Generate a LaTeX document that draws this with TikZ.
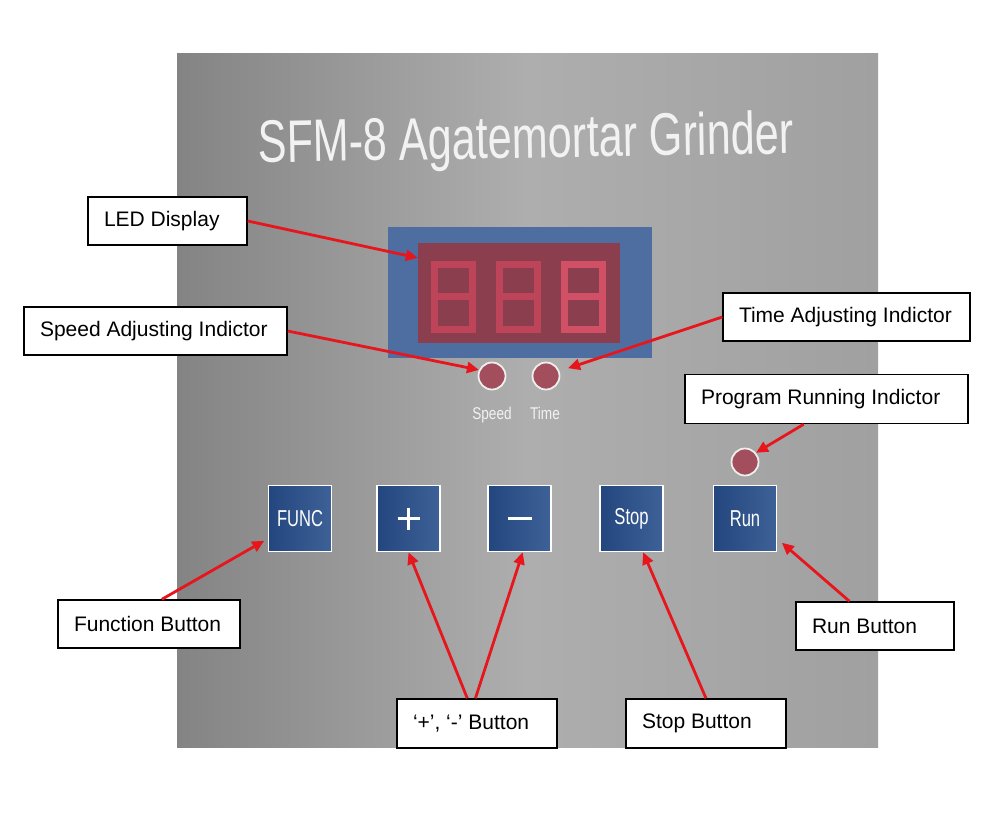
\documentclass[tikz,border=0pt]{standalone}
\usepackage{fontspec}
\usepackage{graphicx}
\setmainfont{Liberation Sans}
\usetikzlibrary{arrows.meta,calc}
\definecolor{arrred}{RGB}{230,22,28}
\definecolor{panL}{RGB}{132,132,132}
\definecolor{panM}{RGB}{174,174,174}
\definecolor{panR}{RGB}{160,160,160}
\definecolor{dispblue}{RGB}{78,110,162}
\definecolor{dispred}{RGB}{138,62,78}
\definecolor{segA}{RGB}{190,68,90}
\definecolor{segB}{RGB}{210,80,102}
\definecolor{btnL}{RGB}{36,70,126}
\definecolor{btnR}{RGB}{62,97,152}
\definecolor{ledred}{RGB}{162,78,92}
\definecolor{ledring}{RGB}{238,238,238}
\definecolor{titlecol}{RGB}{242,242,242}
\begin{document}
\begin{tikzpicture}[x=1pt,y=-1pt,
  lbl/.style={draw=black, line width=1.4pt, fill=white, text=black,
    font=\fontsize{21}{25}\selectfont, inner xsep=16pt, inner ysep=0pt},
  btn/.style={draw=white, line width=1.6pt, minimum width=63, minimum height=66,
    left color=btnL, right color=btnR, inner sep=0pt, text=white,
    font=\fontsize{23}{25}\selectfont},
  led/.style={circle, draw=ledring, line width=1.8pt, fill=ledred,
    minimum size=27, inner sep=0pt},
  small/.style={text=titlecol, font=\fontsize{17}{18}\selectfont, anchor=base, inner sep=0pt},
  arr/.style={draw=arrred, line width=2.8pt, -{Triangle[length=12pt,width=11pt]}},
  seg/.style={line width=7pt}
]
\useasboundingbox (0,0) rectangle (1000,828);
\fill[white] (0,0) rectangle (1000,828);

% panel
\node[draw=none, minimum width=701, minimum height=694, inner sep=0pt,
  left color=panL, right color=panR, middle color=panM] (panel) at (527.5,400) {};

% title
\node[text=titlecol, font=\fontsize{60}{62}\selectfont, anchor=base, inner sep=0pt, rotate=1] (title)
  at (526,158) {\scalebox{0.72}[1]{SFM-8 Agatemortar Grinder}};

% display
\node[fill=dispblue, minimum width=264, minimum height=131, inner sep=0pt] (disp) at (520,292.5) {};
\node[fill=dispred, minimum width=202, minimum height=100, inner sep=0pt] (inner) at (519,293) {};
\foreach \x/\c in {430/segA, 495/segA, 560/segB}{
  \draw[seg, \c] (\x+4,264) rectangle (\x+42,329);
  \draw[seg, \c] (\x+4,296.5) -- (\x+42,296.5);
}

% indicators
\node[led] (speedled) at (492,376) {};
\node[led] (timeled) at (546,376) {};
\node[led] (progled) at (745,462) {};
\node[small] (speedtxt) at (492,419) {\scalebox{0.8}[1]{Speed}};
\node[small] (timetxt) at (545,419) {\scalebox{0.8}[1]{Time}};

% buttons
\node[btn] (func) at (300,518.5) {\scalebox{0.72}[1]{FUNC}};
\node[btn] (plus) at (408.5,518.5) {};
\node[btn] (minus) at (519.5,518.5) {};
\node[btn] (stop) at (631.5,518.5) {\scalebox{0.72}[1]{Stop}};
\node[btn] (run) at (745,518.5) {\scalebox{0.72}[1]{Run}};
\draw[white, line width=3pt] ($(plus)+(-11,0)$) -- ($(plus)+(11,0)$);
\draw[white, line width=3pt] ($(plus)+(0,-11)$) -- ($(plus)+(0,11)$);
\draw[white, line width=3.5pt] ($(minus)+(-12,0)$) -- ($(minus)+(12,0)$);

% labels
\node[lbl, minimum height=48] (ledlbl) at (167.5,221) {\makebox[127pt][l]{LED Display}};
\node[lbl, minimum height=48] (speedlbl) at (155.5,331) {\makebox[231pt][l]{Speed Adjusting Indictor}};
\node[lbl, minimum height=48] (timelbl) at (846.5,317) {\makebox[215pt][l]{Time Adjusting Indictor}};
\node[lbl, minimum height=49] (proglbl) at (826.5,399) {\makebox[251pt][l]{Program Running Indictor}};
\node[lbl, minimum height=48] (funclbl) at (149,624) {\makebox[150pt][l]{Function Button}};
\node[lbl, minimum height=49] (pmlbl) at (477,723.5) {\makebox[128pt][l]{‘+’, ‘-’ Button}};
\node[lbl, minimum height=49] (stoplbl) at (706,723.5) {\makebox[128pt][l]{Stop Button}};
\node[lbl, minimum height=48] (runlbl) at (875,626) {\makebox[126pt][l]{Run Button}};

% arrows
\draw[arr] (ledlbl.east) -- ($(inner.north west)!0.15!(inner.south west)$);
\draw[arr] (speedlbl.east) -- (speedled.155);
\draw[arr, shorten >=9pt] (timelbl.west) -- (timeled.20);
\draw[arr] ($(proglbl.south west)!0.42!(proglbl.south east)$) -- (progled.40);
\draw[arr, shorten >=4pt] ($(funclbl.north west)!0.57!(funclbl.north east)$) -- ($(func.north west)!0.8!(func.south west)$);
\draw[arr] ($(pmlbl.north west)!0.44!(pmlbl.north east)$) -- (plus.south);
\draw[arr] ($(pmlbl.north west)!0.49!(pmlbl.north east)$) -- ($(minus.south west)!0.55!(minus.south east)$);
\draw[arr] (stoplbl.north) -- ($(stop.south west)!0.68!(stop.south east)$);
\draw[arr, shorten >=6pt] ($(runlbl.north west)!0.34!(runlbl.north east)$) -- ($(run.north east)!0.8!(run.south east)$);
\end{tikzpicture}
\end{document}
